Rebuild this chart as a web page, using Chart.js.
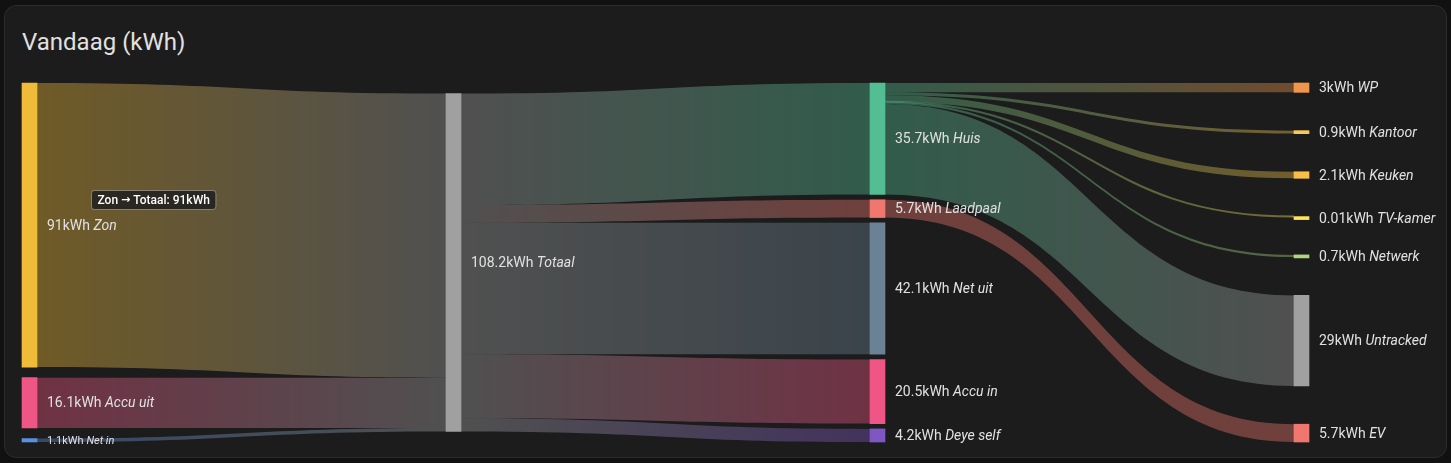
<!DOCTYPE html>
<html>
<head>
<meta charset="utf-8">
<script src="https://cdn.jsdelivr.net/npm/chart.js@4.4.1/dist/chart.umd.min.js"></script>
<style>
  html, body { margin: 0; padding: 0; background: #111111; }
  body { width: 1451px; height: 463px; position: relative; overflow: hidden; font-family: Roboto, sans-serif; }
  .card { position: absolute; left: 4px; top: 5px; width: 1441px; height: 451px; background: #1c1c1c; border: 1px solid #2c2c2c; border-radius: 12px; }
  .card h1 { position: absolute; left: 17px; top: 24px; margin: 0; font-size: 24px; line-height: 24px; font-weight: 400; color: #e1e1e1; }
  canvas { position: absolute; left: 0; top: 0; }
</style>
</head>
<body>
<div class="card">
  <h1>Vandaag (kWh)</h1>
  <canvas id="sankey" width="1441" height="451"></canvas>
</div>
<script>
// Energy flow data for today (kWh)
const unit = 'kWh';
const nodeNames = ['Zon', 'Accu uit', 'Net in', 'Totaal', 'Huis', 'Laadpaal', 'Net uit', 'Accu in', 'Deye self',
  'WP', 'Kantoor', 'Keuken', 'TV-kamer', 'Netwerk', 'Untracked', 'EV'];
const nodeColumns = [0, 0, 0, 1, 2, 2, 2, 2, 2, 3, 3, 3, 3, 3, 3, 3];
const nodeValues = [91, 16.1, 1.1, 108.2, 35.7, 5.7, 42.1, 20.5, 4.2, 3, 0.9, 2.1, 0.01, 0.7, 29, 5.7];
const nodeColors = ['#efbb38', '#ef5585', '#5c8fdc', '#a0a0a0', '#53bd94', '#f0776f', '#6a8294', '#ef5585', '#7e57c2',
  '#f0954c', '#f7c85a', '#f5bf48', '#fbe35a', '#aed581', '#a0a0a0', '#f0776f'];

const flowFrom = ['Zon', 'Accu uit', 'Net in', 'Totaal', 'Totaal', 'Totaal', 'Totaal', 'Totaal',
  'Huis', 'Huis', 'Huis', 'Huis', 'Huis', 'Huis', 'Laadpaal'];
const flowTo = ['Totaal', 'Totaal', 'Totaal', 'Huis', 'Laadpaal', 'Net uit', 'Accu in', 'Deye self',
  'WP', 'Kantoor', 'Keuken', 'TV-kamer', 'Netwerk', 'Untracked', 'EV'];
const flowValues = [91, 16.1, 1.1, 35.7, 5.7, 42.1, 20.5, 4.2, 3, 0.9, 2.1, 0.01, 0.7, 29, 5.7];

// layout in kWh space: nodes of a column spread over the full height
const NODE_GAP = 1.7;
const NODE_WIDTH = 15;
const columns = [...new Set(nodeColumns)];
const colTotals = columns.map(c => nodeValues.reduce((s, v, i) => nodeColumns[i] === c ? s + v : s, 0));
const colCounts = columns.map(c => nodeColumns.filter(k => k === c).length);
const yMax = Math.max(...columns.map((c, i) => colTotals[i] + (colCounts[i] - 1) * NODE_GAP));

const nodeStart = [];
columns.forEach((c, ci) => {
  const n = colCounts[ci];
  let pos = n === 1 ? (yMax - colTotals[ci]) / 2 : 0;
  const gap = n === 1 ? 0 : (yMax - colTotals[ci]) / (n - 1);
  nodeNames.forEach((name, i) => {
    if (nodeColumns[i] !== c) return;
    nodeStart[i] = pos;
    pos += nodeValues[i] + gap;
  });
});

const nodeData = nodeNames.map((n, i) => ({ x: nodeColumns[i], y: [nodeStart[i], nodeStart[i] + nodeValues[i]] }));

function withAlpha(hex, a) {
  const r = parseInt(hex.slice(1, 3), 16), g = parseInt(hex.slice(3, 5), 16), b = parseInt(hex.slice(5, 7), 16);
  return `rgba(${r},${g},${b},${a})`;
}

const sankeyPlugin = {
  id: 'sankeyFlows',
  beforeDatasetsDraw(chart) {
    const { ctx, scales: { x, y } } = chart;
    const half = NODE_WIDTH / 2;
    const outCursor = nodeStart.slice();
    const inCursor = nodeStart.slice();
    ctx.save();
    flowValues.forEach((v, k) => {
      const s = nodeNames.indexOf(flowFrom[k]);
      const t = nodeNames.indexOf(flowTo[k]);
      const sy0 = y.getPixelForValue(outCursor[s]);
      const sy1 = y.getPixelForValue(outCursor[s] + v);
      const ty0 = y.getPixelForValue(inCursor[t]);
      const ty1 = y.getPixelForValue(inCursor[t] + v);
      outCursor[s] += v;
      inCursor[t] += v;
      const sx = x.getPixelForValue(nodeColumns[s]) + half;
      const tx = x.getPixelForValue(nodeColumns[t]) - half;
      const mx = (sx + tx) / 2;
      const grad = ctx.createLinearGradient(sx, 0, tx, 0);
      grad.addColorStop(0, withAlpha(nodeColors[s], 0.4));
      grad.addColorStop(1, withAlpha(nodeColors[t], 0.4));
      ctx.fillStyle = grad;
      ctx.beginPath();
      ctx.moveTo(sx, sy0);
      ctx.bezierCurveTo(mx, sy0, mx, ty0, tx, ty0);
      ctx.lineTo(tx, ty1);
      ctx.bezierCurveTo(mx, ty1, mx, sy1, sx, sy1);
      ctx.closePath();
      ctx.fill();
      if (sy1 - sy0 < 2) {
        // keep very small flows visible
        const a = (sy0 + sy1) / 2, b = (ty0 + ty1) / 2;
        ctx.strokeStyle = grad;
        ctx.lineWidth = 2;
        ctx.beginPath();
        ctx.moveTo(sx, a);
        ctx.bezierCurveTo(mx, a, mx, b, tx, b);
        ctx.stroke();
      }
    });
    ctx.restore();
  },
  afterDatasetsDraw(chart) {
    const { ctx } = chart;
    const bars = chart.getDatasetMeta(0).data;
    ctx.save();
    ctx.textBaseline = 'middle';
    ctx.fillStyle = '#e1e1e1';
    bars.forEach((bar, i) => {
      const cy = (bar.y + bar.base) / 2 + 1;
      const lx = bar.x + bar.width / 2 + 10;
      const small = nodeColumns[i] === 0 && Math.abs(bar.base - bar.y) < 5;
      const size = small ? 11 : 14;
      const valueText = nodeValues[i] + unit + ' ';
      ctx.font = `${size}px Roboto`;
      ctx.fillText(valueText, lx, cy);
      const w = ctx.measureText(valueText).width;
      ctx.font = `italic ${size}px Roboto`;
      ctx.fillText(nodeNames[i], lx + w, cy);
    });
    ctx.restore();
  },
  afterDraw(chart) {
    // hover tooltip as seen on the first flow
    const { ctx } = chart;
    const parts = [`${flowFrom[0]} `, '\u2192', ` ${flowTo[0]}: ${flowValues[0]}${unit}`];
    const fonts = ['500 12px Roboto', 'bold 11px "DejaVu Sans"', '500 12px Roboto'];
    ctx.save();
    const widths = parts.map((p, i) => { ctx.font = fonts[i]; return ctx.measureText(p).width; });
    const w = widths.reduce((a, b) => a + b, 0) + 12;
    const left = 86, top = 184, h = 19;
    ctx.fillStyle = 'rgba(32,32,32,0.85)';
    ctx.strokeStyle = 'rgba(255,255,255,0.35)';
    ctx.lineWidth = 1;
    ctx.beginPath();
    ctx.roundRect(left + 0.5, top + 0.5, w, h, 3);
    ctx.fill();
    ctx.stroke();
    ctx.fillStyle = '#ffffff';
    ctx.textBaseline = 'middle';
    let tx = left + 6.5;
    parts.forEach((p, i) => {
      ctx.font = fonts[i];
      ctx.fillText(p, tx, top + h / 2 + 1);
      tx += widths[i];
    });
    ctx.restore();
  }
};

window.onload = function () {
  const ctx = document.getElementById('sankey').getContext('2d');
  new Chart(ctx, {
    type: 'bar',
    data: {
      datasets: [{
        data: nodeData,
        backgroundColor: nodeColors,
        barThickness: NODE_WIDTH,
        minBarLength: 3,
        borderWidth: 0,
        clip: false
      }]
    },
    options: {
      responsive: false,
      animation: false,
      devicePixelRatio: 1,
      events: [],
      layout: { padding: { left: 24.5, right: 144.5, top: 77, bottom: 15 } },
      scales: {
        x: { type: 'linear', min: 0, max: 3, offset: false, display: false },
        y: { type: 'linear', min: 0, max: yMax, reverse: true, display: false }
      },
      plugins: {
        legend: { display: false },
        tooltip: { enabled: false }
      }
    },
    plugins: [sankeyPlugin]
  });
};
</script>
</body>
</html>
